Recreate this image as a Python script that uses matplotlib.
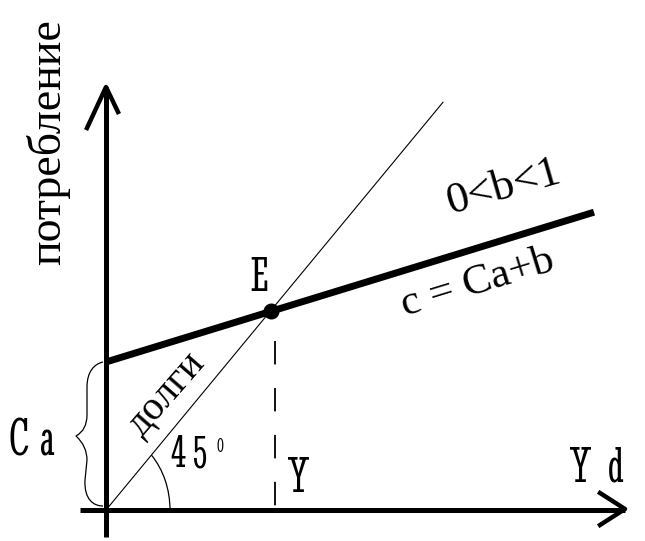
import numpy as np
from matplotlib import pyplot as plt
from matplotlib.patches import Arc, PathPatch
from matplotlib.path import Path

# geometry of the diagram (units = pixels, origin at the axes crossing)
Ca = 148            # intercept of consumption line
b = 0.307           # marginal propensity to consume
x_end = 488         # end of consumption line
k45 = 1.21          # slope of "45 degree" line on screen
x45_end = 337       # end of 45 degree line
E_x = 165           # equilibrium income
Y_dash_x = 169      # dashed drop line
y_axis = [-27, 423]
x_axis = [-26, 519]

# narrow letter labels: (text, x centre, baseline y, size)
letters = [
    ('E', 153, 219, 37),
    ('Y', 192, 18, 38),
    ('C', -87.5, 55, 39),
    ('a', -59, 55, 39),
    ('4', 72, 43, 34),
    ('5', 94.5, 43, 34),
    ('0', 114, 58, 15),
    ('Y', 474, 28, 38),
    ('d', 510, 28, 38),
]

serif = ['Liberation Serif', 'DejaVu Serif']
narrow = ['Stint Ultra Condensed', 'DejaVu Sans']

fig = plt.figure(figsize=(6.45, 5.41), dpi=100)
ax = fig.add_axes([0, 0, 1, 1])
ax.set_xlim(-106, 539)
ax.set_ylim(-31, 510)
ax.axis('off')

# axes with open arrowheads
ax.plot([0, 0], y_axis, color='black', lw=3.6, solid_capstyle='butt')
ax.plot([-19, 0, 12], [y_axis[1] - 41, y_axis[1], y_axis[1] - 25], color='black', lw=3.2)
ax.plot(x_axis, [0, 0], color='black', lw=3.6, solid_capstyle='butt')
ax.plot([x_axis[1] - 25, x_axis[1], x_axis[1] - 25], [17, 1, -15], color='black', lw=3.2)

# 45 degree line
xs = np.array([0, x45_end])
ax.plot(xs, k45 * xs, color='black', lw=0.8)

# consumption function
xc = np.array([0, x_end])
ax.plot(xc, Ca + b * xc, color='black', lw=5, solid_capstyle='butt')

# equilibrium point and dashed drop line
E_y = Ca + b * E_x
ax.plot([E_x], [E_y], 'o', color='black', ms=10.5)
ax.plot([Y_dash_x, Y_dash_x], [E_y - 30, 0], color='black', lw=1.3, ls=(0, (13, 13)))

# angle arc
ang = np.degrees(np.arctan(k45))
ax.add_patch(Arc((0, 0), 128, 156, theta1=0, theta2=ang, color='black', lw=0.9))

# curly brace for Ca
verts = [(-3, Ca), (-12, Ca - 2), (-19, Ca - 10), (-19, Ca - 25),
         (-19, 95), (-19, 80), (-30, Ca / 2),
         (-19, 64), (-19, 50), (-21, 30),
         (-22, 10), (-12, 4), (-3, 4)]
codes = [Path.MOVETO, Path.CURVE4, Path.CURVE4, Path.CURVE4,
         Path.LINETO, Path.CURVE3, Path.CURVE3,
         Path.CURVE3, Path.CURVE3, Path.LINETO,
         Path.CURVE4, Path.CURVE4, Path.CURVE4]
ax.add_patch(PathPatch(Path(verts, codes), fill=False, lw=0.9, color='black'))

# labels
ax.text(-58, 368, 'потребление', family=serif, fontsize=33, rotation=90,
        ha='center', va='center')
for s, x, y, size in letters:
    ax.text(x, y, s, family=narrow, fontstretch='condensed', fontsize=size,
            ha='center', va='baseline')
ax.text(397, 323, '0<b<1', family=serif, fontsize=32, rotation=16,
        ha='center', va='center')
ax.text(372, 227, 'c = Ca+b', family=serif, fontsize=31, rotation=17,
        ha='center', va='center')
ax.text(61, 116, 'долги', family=serif, fontsize=29, rotation=49,
        ha='center', va='center')

plt.savefig('out.png', dpi=100)
